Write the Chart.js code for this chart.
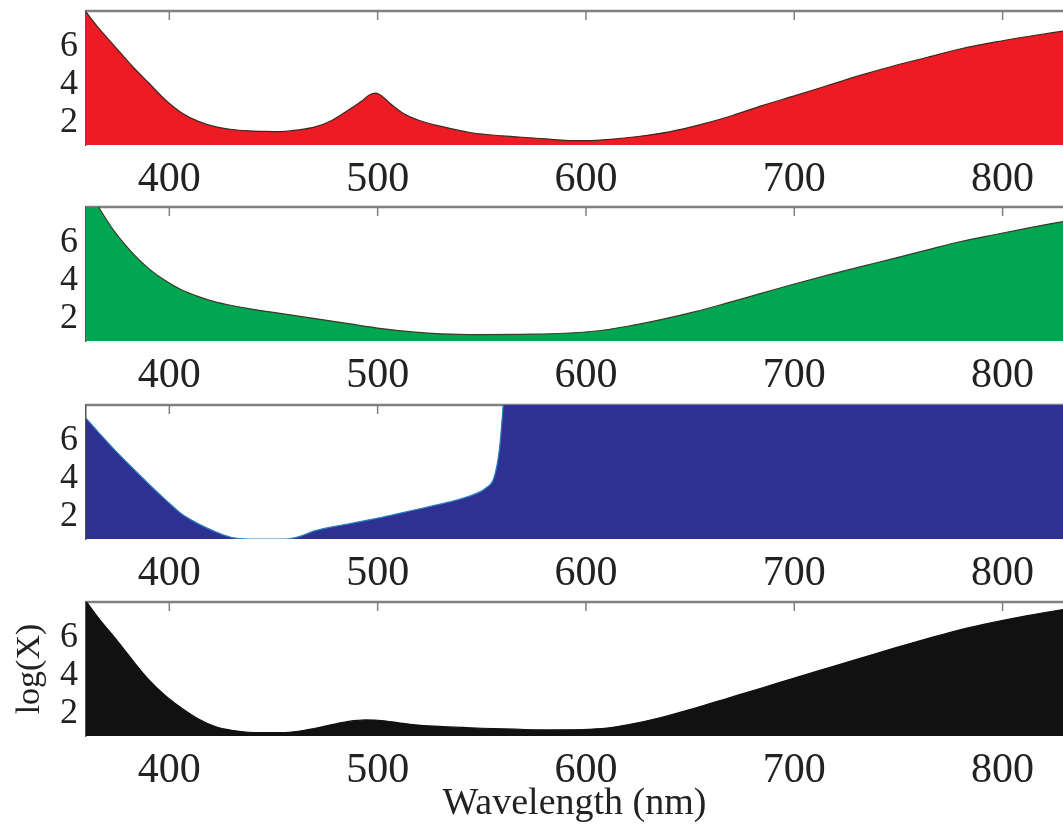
<!DOCTYPE html>
<html>
<head>
<title>log(X) spectra</title>
<script src="https://cdn.jsdelivr.net/npm/chart.js"></script>
<style>
  body { margin: 0; background: #fff; }
  canvas { position: absolute; left: 0; }
</style>
</head>
<body>
<canvas id="p1" width="1063" height="196" style="top:0px"></canvas>
<canvas id="p2" width="1063" height="198" style="top:196px"></canvas>
<canvas id="p3" width="1063" height="197" style="top:394px"></canvas>
<canvas id="p4" width="1063" height="236" style="top:591px"></canvas>
<script>
// tick labels
const xTicks = [400, 500, 600, 700, 800];
const yTicks = [2, 4, 6];

// red panel
const redNm  = [360, 366, 374, 382, 390, 398, 406, 414, 422, 430, 438, 446, 454, 462, 470, 478, 486, 492, 496, 499, 502, 506, 512, 520, 530, 545, 560, 575, 590, 600, 612, 625, 640, 655, 670, 685, 700, 716, 732, 748, 764, 780, 796, 812, 830];
const redVal = [7.85, 7.0, 6.0, 5.0, 4.1, 3.2, 2.5, 2.05, 1.77, 1.62, 1.55, 1.52, 1.51, 1.6, 1.76, 2.1, 2.65, 3.1, 3.45, 3.55, 3.4, 3.0, 2.5, 2.1, 1.8, 1.45, 1.28, 1.17, 1.05, 1.03, 1.1, 1.25, 1.5, 1.88, 2.35, 2.9, 3.4, 3.95, 4.5, 5.0, 5.45, 5.9, 6.25, 6.55, 6.85];

// green panel
const greenNm  = [360, 366, 374, 382, 390, 398, 406, 414, 422, 430, 438, 454, 470, 486, 502, 518, 530, 550, 574, 590, 605, 620, 636, 652, 668, 684, 700, 716, 732, 748, 764, 780, 796, 812, 830];
const greenVal = [9.0, 7.9, 6.55, 5.5, 4.65, 4.0, 3.5, 3.15, 2.87, 2.68, 2.52, 2.25, 1.99, 1.72, 1.46, 1.27, 1.18, 1.14, 1.16, 1.21, 1.33, 1.58, 1.93, 2.34, 2.82, 3.32, 3.82, 4.29, 4.74, 5.18, 5.63, 6.07, 6.43, 6.78, 7.15];

// blue panel
const blueNm  = [360, 366, 374, 382, 390, 398, 406, 414, 422, 430, 438, 446, 456, 463, 470, 486, 502, 518, 534, 546, 552, 556, 558.5, 560, 561, 570, 600, 700, 830];
const blueVal = [7.2, 6.45, 5.5, 4.6, 3.73, 2.9, 2.12, 1.6, 1.19, 0.88, 0.8, 0.8, 0.8, 0.95, 1.24, 1.6, 1.95, 2.35, 2.75, 3.15, 3.5, 4.1, 5.6, 7.5, 9, 9, 9, 9, 9];

// black panel
const blackNm  = [360, 366, 374, 382, 390, 398, 406, 414, 422, 430, 438, 454, 462, 470, 478, 486, 494, 502, 510, 518, 534, 550, 566, 582, 598, 610, 620, 636, 652, 668, 684, 700, 716, 732, 748, 764, 780, 796, 812, 830];
const blackVal = [7.95, 7.05, 5.98, 4.86, 3.8, 2.95, 2.27, 1.7, 1.3, 1.1, 1.0, 0.98, 1.05, 1.21, 1.4, 1.57, 1.65, 1.62, 1.5, 1.39, 1.28, 1.21, 1.16, 1.12, 1.14, 1.22, 1.39, 1.78, 2.27, 2.8, 3.33, 3.87, 4.4, 4.93, 5.46, 5.96, 6.44, 6.83, 7.18, 7.52];

const serif = "'Liberation Serif', 'Times New Roman', serif";

// top frame line with inward ticks, drawn under the fill
const frame = {
  id: 'frame',
  beforeDatasetsDraw(chart) {
    const { ctx, chartArea: a, scales: { x } } = chart;
    ctx.save();
    ctx.strokeStyle = '#808080';
    ctx.lineWidth = 2.5;
    ctx.beginPath();
    ctx.moveTo(a.left, a.top);
    ctx.lineTo(a.right, a.top);
    ctx.stroke();
    ctx.lineWidth = 1.5;
    ctx.beginPath();
    xTicks.forEach(v => {
      const px = x.getPixelForValue(v);
      ctx.moveTo(px, a.top);
      ctx.lineTo(px, a.top + 9);
    });
    ctx.stroke();
    ctx.restore();
  }
};

function makePanel(id, nm, vals, fillColor, edgeColor, last) {
  const canvas = document.getElementById(id);
  const axisH = canvas.height - 145;
  return new Chart(canvas, {
    type: 'line',
    data: {
      datasets: [{
        data: nm.map((w, i) => ({ x: w, y: vals[i] })),
        backgroundColor: fillColor,
        borderColor: edgeColor,
        borderWidth: 1.2,
        pointRadius: 0,
        cubicInterpolationMode: 'monotone',
        fill: 'start'
      }]
    },
    options: {
      responsive: false,
      animation: false,
      devicePixelRatio: 1,
      layout: { padding: { top: 11, left: 0, right: 0, bottom: 0 } },
      plugins: { legend: { display: false }, tooltip: { enabled: false } },
      scales: {
        x: {
          type: 'linear',
          min: 360,
          max: 829,
          afterBuildTicks: s => { s.ticks = xTicks.map(v => ({ value: v })); },
          afterFit: s => { s.height = axisH; s.paddingLeft = 0; s.paddingRight = 0; },
          grid: { display: false, drawTicks: false },
          border: { display: false },
          ticks: { color: '#222', padding: 10, maxRotation: 0, font: { family: serif, size: 42 } },
          title: {
            display: last,
            text: 'Wavelength (nm)',
            color: '#222',
            padding: { top: 0, bottom: 0 },
            font: { family: serif, size: 38 }
          }
        },
        y: {
          min: 0.8,
          max: 7.9,
          afterBuildTicks: s => { s.ticks = yTicks.map(v => ({ value: v })); },
          afterFit: s => { s.width = 86; s.paddingTop = 0; s.paddingBottom = 0; },
          grid: { display: false, drawTicks: false },
          border: { display: true, color: '#555', width: 1.5 },
          ticks: { color: '#222', padding: 8, font: { family: serif, size: 36 } },
          title: {
            display: last,
            text: 'log(X)',
            color: '#222',
            padding: { top: 10, bottom: 0 },
            font: { family: serif, size: 34 }
          }
        }
      }
    },
    plugins: [frame]
  });
}

makePanel('p1', redNm, redVal, '#ED1C24', '#3a2a20', false);
makePanel('p2', greenNm, greenVal, '#00A651', '#3a3a2a', false);
makePanel('p3', blueNm, blueVal, '#2E3192', '#2a7fc0', false);
makePanel('p4', blackNm, blackVal, '#111111', '#111111', true);
</script>
</body>
</html>
